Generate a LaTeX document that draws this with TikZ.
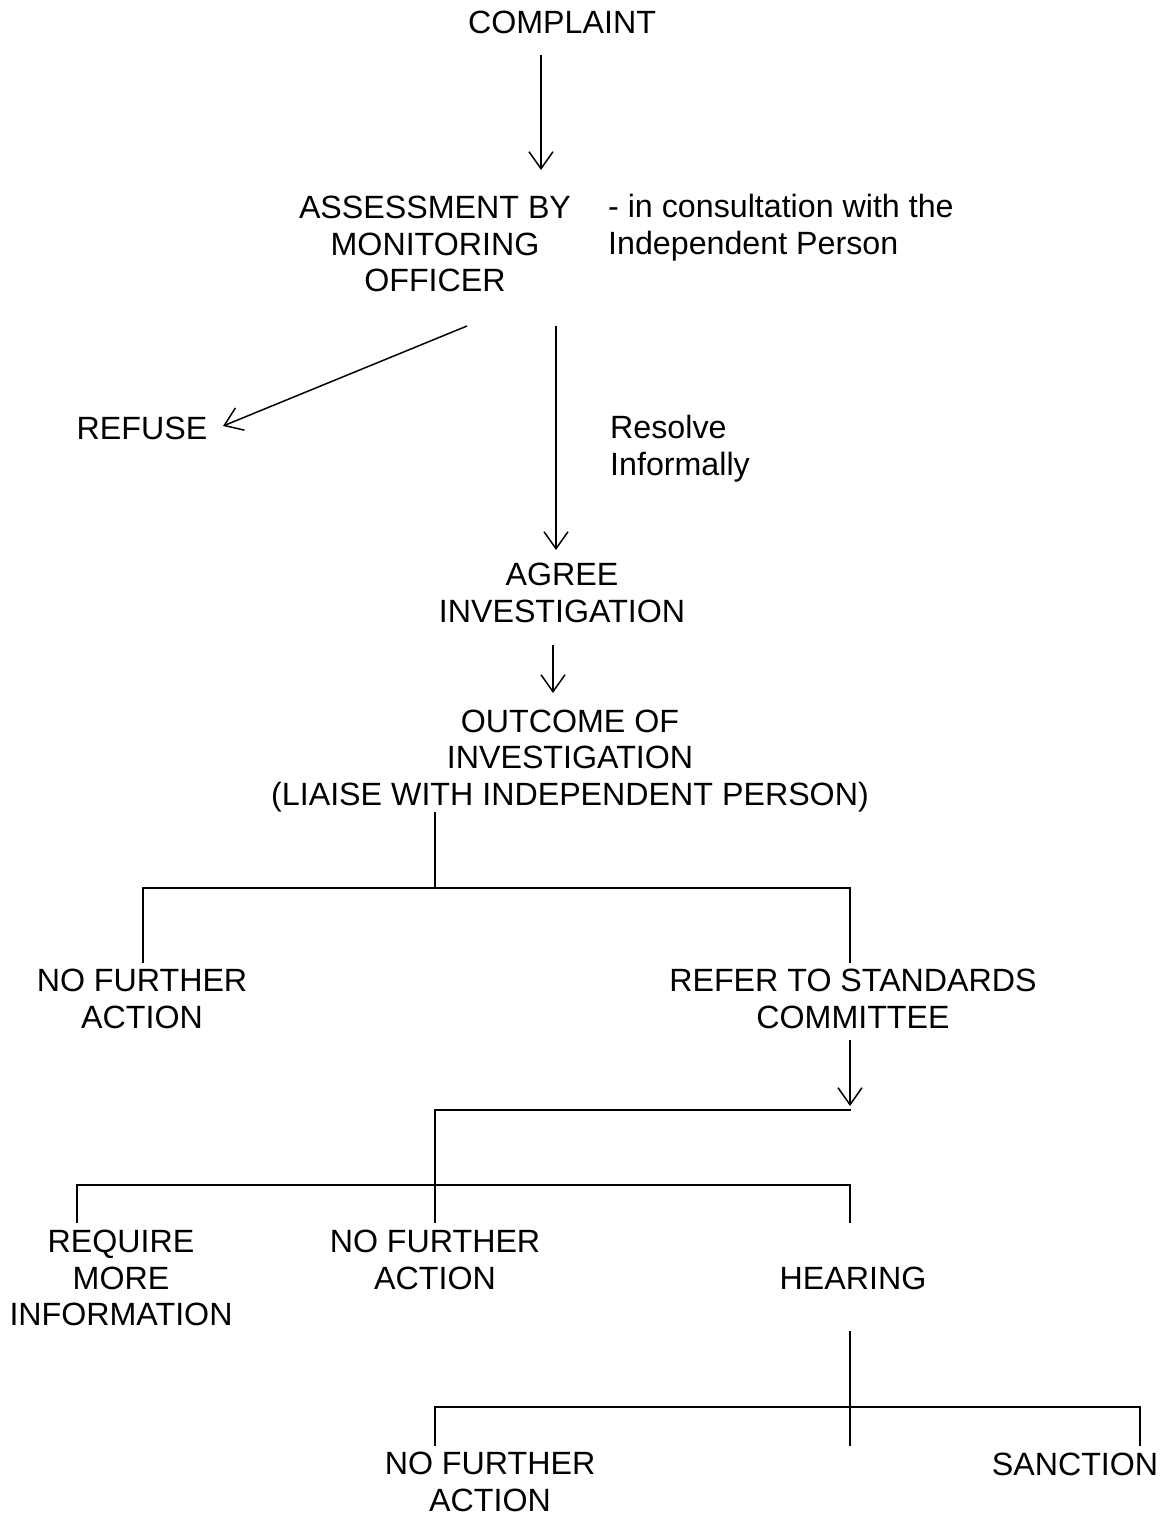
\documentclass[tikz,border=0pt]{standalone}
\usepackage{fontspec}
\setmainfont{Liberation Sans}
\usetikzlibrary{arrows.meta}
\begin{document}
\begin{tikzpicture}[x=1pt,y=-1pt,
  lbl/.style={inner sep=0pt,align=center,font=\fontsize{32.2}{36.7}\selectfont},
  lbll/.style={inner sep=0pt,align=left,anchor=west,font=\fontsize{32.2}{36.7}\selectfont},
  arr/.style={line width=1.5pt,-{Straight Barb[length=17pt,width=24pt,line width=1.5pt]}},
  tree/.style={line width=2.3pt,line cap=rect}]
\useasboundingbox (0,0) rectangle (1168,1515);
% nodes
\node[lbl] (complaint) at (562,22) {COMPLAINT};
\node[lbl] (assess) at (435,244) {ASSESSMENT BY\\MONITORING\\OFFICER};
\node[lbll] (consult) at (608,228) {- in consultation with the\\Independent Person};
\node[lbl] (refuse) at (142,428) {REFUSE};
\node[lbll] (resolve) at (610,449) {Resolve\\Informally};
\node[lbl] (agree) at (562,593) {AGREE\\INVESTIGATION};
\node[lbl] (outcome) at (570,761) {OUTCOME OF\\INVESTIGATION\\(LIAISE WITH INDEPENDENT PERSON)};
\node[lbl] (nfa1) at (142,999) {NO FURTHER\\ACTION};
\node[lbl] (refer) at (853,999) {REFER TO STANDARDS\\COMMITTEE};
\node[lbl] (require) at (121,1278) {REQUIRE\\MORE\\INFORMATION};
\node[lbl] (nfa2) at (435,1260) {NO FURTHER\\ACTION};
\node[lbl] (hearing) at (853,1278) {HEARING};
\node[lbl] (nfa3) at (490,1482) {NO FURTHER\\ACTION};
\node[lbl] (sanction) at (1075,1464) {SANCTION};
% coordinates
\coordinate (c1s) at (541,55);
\coordinate (c1e) at (541,170);
\coordinate (d1s) at (467,326);
\coordinate (d1e) at (223,426);
\coordinate (v1s) at (556,326);
\coordinate (v1e) at (556,550);
\coordinate (v2s) at (553,645);
\coordinate (v2e) at (553,693);
\coordinate (t1top) at (435,813);
\coordinate (t1mid) at (435,888);
\coordinate (t1l) at (143,888);
\coordinate (t1r) at (850,888);
\coordinate (t1lb) at (143,962);
\coordinate (t1rb) at (850,962);
\coordinate (v3s) at (850,1040);
\coordinate (v3e) at (850,1106);
\coordinate (t2r) at (850,1110);
\coordinate (t2l) at (435,1110);
\coordinate (t3m) at (435,1185);
\coordinate (t3l) at (77,1185);
\coordinate (t3r) at (850,1185);
\coordinate (t3lb) at (77,1222);
\coordinate (t3mb) at (435,1222);
\coordinate (t3rb) at (850,1222);
\coordinate (t4top) at (850,1332);
\coordinate (t4m) at (850,1407);
\coordinate (t4mb) at (850,1445);
\coordinate (t4l) at (435,1407);
\coordinate (t4r) at (1140,1407);
\coordinate (t4lb) at (435,1445);
\coordinate (t4rb) at (1140,1445);
% connectors
\draw[arr] (c1s) -- (c1e);
\draw[arr] (d1s) -- (d1e);
\draw[arr] (v1s) -- (v1e);
\draw[arr] (v2s) -- (v2e);
\draw[tree] (t1top) -- (t1mid);
\draw[tree] (t1lb) -- (t1l) -- (t1r) -- (t1rb);
\draw[arr] (v3s) -- (v3e);
\draw[tree] (t2r) -- (t2l) -- (t3mb);
\draw[tree] (t3lb) -- (t3l) -- (t3r) -- (t3rb);
\draw[tree] (t4top) -- (t4mb);
\draw[tree] (t4lb) -- (t4l) -- (t4r) -- (t4rb);
\end{tikzpicture}
\end{document}
